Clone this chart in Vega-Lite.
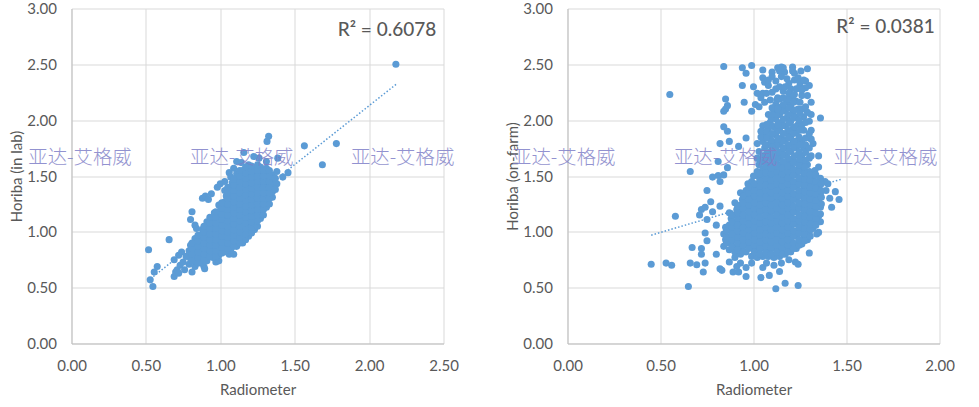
{"$schema":"https://vega.github.io/schema/vega-lite/v6.json","padding":{"left":9.5,"top":1.5,"right":0,"bottom":0},"background":"white","bounds":"flush","spacing":124,
"config":{"view":{"stroke":null},"axis":{"grid":true,"gridColor":"#d9d9d9","gridWidth":1,"domainColor":"#bfbfbf","ticks":false,"labelFont":"Lato","labelFontSize":15,"labelColor":"#595959","titleFont":"Lato","titleFontSize":15,"titleColor":"#595959","titleFontWeight":"normal","labelPadding":15,"labelFlush":false,"labelOverlap":false,"format":".2f"}},
"datasets":{
"lab":[{"x":2.18,"y":2.5},{"x":1.78,"y":1.79},{"x":1.686,"y":1.6},{"x":1.565,"y":1.77},{"x":1.325,"y":1.855},{"x":1.314,"y":1.81},{"x":1.158,"y":1.71},{"x":1.225,"y":1.675},{"x":1.386,"y":1.66},{"x":1.31,"y":1.63},{"x":1.455,"y":1.53},{"x":1.42,"y":1.49},{"x":0.518,"y":0.84},{"x":0.656,"y":0.93},{"x":0.576,"y":0.69},{"x":0.556,"y":0.64},{"x":0.529,"y":0.57},{"x":0.547,"y":0.51},{"x":0.69,"y":0.6},{"x":0.7,"y":0.64},{"x":0.69,"y":0.75},{"x":0.72,"y":0.79},{"x":0.71,"y":0.66},{"x":0.74,"y":0.82},{"x":0.81,"y":0.64},{"x":0.89,"y":0.69},{"x":0.895,"y":0.67},{"x":0.97,"y":0.73},{"x":0.99,"y":0.74},{"x":1.06,"y":0.8},{"x":1.09,"y":0.8},{"x":0.81,"y":1.18},{"x":0.8,"y":1.11},{"x":0.83,"y":1.06},{"x":0.84,"y":1.03},{"x":0.88,"y":1.3},{"x":0.9,"y":1.32},{"x":0.92,"y":1.29},{"x":0.94,"y":1.34},{"x":0.98,"y":1.4},{"x":1.0,"y":1.43},{"x":1.03,"y":1.45},{"x":1.06,"y":1.53},{"x":1.09,"y":1.57},{"x":1.11,"y":1.63},{"x":1.14,"y":1.62},{"x":1.26,"y":1.66},
{"x":0.72,"y":0.63},{"x":0.73,"y":0.7},{"x":0.76,"y":0.66},{"x":0.75,"y":0.73},{"x":0.77,"y":0.78},{"x":0.79,"y":0.71},{"x":0.8,"y":0.76},{"x":0.79,"y":0.83},{"x":0.8,"y":0.88},{"x":0.83,"y":0.69},{"x":0.83,"y":0.74},{"x":0.84,"y":0.79},{"x":0.83,"y":0.84},{"x":0.84,"y":0.89},{"x":0.83,"y":0.94},{"x":0.87,"y":0.72},{"x":0.87,"y":0.77},{"x":0.88,"y":0.82},{"x":0.87,"y":0.87},{"x":0.88,"y":0.92},{"x":0.87,"y":0.97},{"x":0.88,"y":1.02},{"x":0.91,"y":0.74},{"x":0.91,"y":0.79},{"x":0.92,"y":0.84},{"x":0.91,"y":0.89},{"x":0.92,"y":0.94},{"x":0.91,"y":0.99},{"x":0.92,"y":1.04},{"x":0.91,"y":1.09},{"x":0.95,"y":0.77},{"x":0.95,"y":0.82},{"x":0.96,"y":0.87},{"x":0.95,"y":0.92},{"x":0.96,"y":0.97},{"x":0.95,"y":1.02},{"x":0.96,"y":1.07},{"x":0.95,"y":1.12},{"x":0.96,"y":1.17},{"x":0.99,"y":0.79},{"x":0.99,"y":0.84},{"x":1.0,"y":0.89},{"x":0.99,"y":0.94},{"x":1.0,"y":0.99},{"x":0.99,"y":1.04},{"x":1.0,"y":1.09},{"x":0.99,"y":1.14},{"x":1.0,"y":1.19},{"x":0.99,"y":1.24},{"x":1.03,"y":0.82},{"x":1.03,"y":0.87},{"x":1.04,"y":0.92},{"x":1.03,"y":0.97},{"x":1.04,"y":1.02},{"x":1.03,"y":1.07},{"x":1.04,"y":1.12},{"x":1.03,"y":1.17},{"x":1.04,"y":1.22},{"x":1.03,"y":1.27},{"x":1.04,"y":1.32},{"x":1.03,"y":1.37},{"x":1.07,"y":0.84},{"x":1.07,"y":0.89},{"x":1.08,"y":0.94},{"x":1.07,"y":0.99},{"x":1.08,"y":1.04},{"x":1.07,"y":1.09},{"x":1.08,"y":1.14},{"x":1.07,"y":1.19},{"x":1.08,"y":1.24},{"x":1.07,"y":1.29},{"x":1.08,"y":1.34},{"x":1.07,"y":1.39},{"x":1.08,"y":1.44},{"x":1.07,"y":1.49},{"x":1.11,"y":0.87},{"x":1.11,"y":0.92},{"x":1.12,"y":0.97},{"x":1.11,"y":1.02},{"x":1.12,"y":1.07},{"x":1.11,"y":1.12},{"x":1.12,"y":1.17},{"x":1.11,"y":1.22},{"x":1.12,"y":1.27},{"x":1.11,"y":1.32},{"x":1.12,"y":1.37},{"x":1.11,"y":1.42},{"x":1.12,"y":1.47},{"x":1.11,"y":1.52},{"x":1.15,"y":0.9},{"x":1.15,"y":0.95},{"x":1.16,"y":1.0},{"x":1.15,"y":1.05},{"x":1.16,"y":1.1},{"x":1.15,"y":1.15},{"x":1.16,"y":1.2},{"x":1.15,"y":1.25},{"x":1.16,"y":1.3},{"x":1.15,"y":1.35},{"x":1.16,"y":1.4},{"x":1.15,"y":1.45},{"x":1.16,"y":1.5},{"x":1.15,"y":1.55},{"x":1.19,"y":0.96},{"x":1.19,"y":1.01},{"x":1.2,"y":1.06},{"x":1.19,"y":1.11},{"x":1.2,"y":1.16},{"x":1.19,"y":1.21},{"x":1.2,"y":1.26},{"x":1.19,"y":1.31},{"x":1.2,"y":1.36},{"x":1.19,"y":1.41},{"x":1.2,"y":1.46},{"x":1.19,"y":1.51},{"x":1.2,"y":1.56},{"x":1.19,"y":1.6},{"x":1.23,"y":1.02},{"x":1.23,"y":1.07},{"x":1.24,"y":1.12},{"x":1.23,"y":1.17},{"x":1.24,"y":1.22},{"x":1.23,"y":1.27},{"x":1.24,"y":1.32},{"x":1.23,"y":1.37},{"x":1.24,"y":1.42},{"x":1.23,"y":1.47},{"x":1.24,"y":1.52},{"x":1.23,"y":1.57},{"x":1.27,"y":1.12},{"x":1.27,"y":1.17},{"x":1.28,"y":1.22},{"x":1.27,"y":1.27},{"x":1.28,"y":1.32},{"x":1.27,"y":1.37},{"x":1.28,"y":1.42},{"x":1.27,"y":1.47},{"x":1.28,"y":1.52},{"x":1.27,"y":1.58},{"x":1.31,"y":1.22},{"x":1.31,"y":1.27},{"x":1.32,"y":1.32},{"x":1.31,"y":1.37},{"x":1.32,"y":1.42},{"x":1.31,"y":1.47},{"x":1.32,"y":1.52},{"x":1.31,"y":1.57},{"x":1.35,"y":1.31},{"x":1.35,"y":1.36},{"x":1.35,"y":1.41},{"x":1.36,"y":1.46},{"x":1.35,"y":1.51},{"x":1.38,"y":1.43},{"x":1.38,"y":1.54},
{"x":0.81,"y":0.74},{"x":0.81,"y":0.8},{"x":0.81,"y":0.85},{"x":0.81,"y":0.9},{"x":0.85,"y":0.72},{"x":0.85,"y":0.77},{"x":0.85,"y":0.82},{"x":0.85,"y":0.87},{"x":0.85,"y":0.92},{"x":0.85,"y":0.97},{"x":0.89,"y":0.75},{"x":0.89,"y":0.8},{"x":0.89,"y":0.85},{"x":0.89,"y":0.9},{"x":0.89,"y":0.95},{"x":0.89,"y":1.0},{"x":0.89,"y":1.05},{"x":0.93,"y":0.78},{"x":0.93,"y":0.83},{"x":0.93,"y":0.88},{"x":0.93,"y":0.93},{"x":0.93,"y":0.98},{"x":0.93,"y":1.03},{"x":0.93,"y":1.08},{"x":0.93,"y":1.13},{"x":0.97,"y":0.78},{"x":0.97,"y":0.83},{"x":0.97,"y":0.88},{"x":0.97,"y":0.93},{"x":0.97,"y":0.98},{"x":0.97,"y":1.03},{"x":0.97,"y":1.08},{"x":0.97,"y":1.13},{"x":0.97,"y":1.18},{"x":1.01,"y":0.81},{"x":1.01,"y":0.86},{"x":1.01,"y":0.91},{"x":1.01,"y":0.96},{"x":1.01,"y":1.01},{"x":1.01,"y":1.06},{"x":1.01,"y":1.11},{"x":1.01,"y":1.16},{"x":1.01,"y":1.21},{"x":1.01,"y":1.26},{"x":1.05,"y":0.85},{"x":1.05,"y":0.9},{"x":1.05,"y":0.95},{"x":1.05,"y":1.0},{"x":1.05,"y":1.05},{"x":1.05,"y":1.1},{"x":1.05,"y":1.15},{"x":1.05,"y":1.2},{"x":1.05,"y":1.25},{"x":1.05,"y":1.3},{"x":1.05,"y":1.35},{"x":1.05,"y":1.4},{"x":1.09,"y":0.87},{"x":1.09,"y":0.92},{"x":1.09,"y":0.97},{"x":1.09,"y":1.02},{"x":1.09,"y":1.07},{"x":1.09,"y":1.12},{"x":1.09,"y":1.17},{"x":1.09,"y":1.22},{"x":1.09,"y":1.27},{"x":1.09,"y":1.32},{"x":1.09,"y":1.37},{"x":1.09,"y":1.42},{"x":1.09,"y":1.47},{"x":1.13,"y":0.9},{"x":1.13,"y":0.95},{"x":1.13,"y":1.0},{"x":1.13,"y":1.05},{"x":1.13,"y":1.1},{"x":1.13,"y":1.15},{"x":1.13,"y":1.2},{"x":1.13,"y":1.25},{"x":1.13,"y":1.3},{"x":1.13,"y":1.35},{"x":1.13,"y":1.4},{"x":1.13,"y":1.45},{"x":1.13,"y":1.5},{"x":1.13,"y":1.55},{"x":1.17,"y":0.93},{"x":1.17,"y":0.98},{"x":1.17,"y":1.03},{"x":1.17,"y":1.08},{"x":1.17,"y":1.13},{"x":1.17,"y":1.18},{"x":1.17,"y":1.23},{"x":1.17,"y":1.28},{"x":1.17,"y":1.33},{"x":1.17,"y":1.38},{"x":1.17,"y":1.43},{"x":1.17,"y":1.48},{"x":1.17,"y":1.53},{"x":1.17,"y":1.58},{"x":1.21,"y":0.99},{"x":1.21,"y":1.04},{"x":1.21,"y":1.09},{"x":1.21,"y":1.14},{"x":1.21,"y":1.19},{"x":1.21,"y":1.24},{"x":1.21,"y":1.29},{"x":1.21,"y":1.34},{"x":1.21,"y":1.39},{"x":1.21,"y":1.44},{"x":1.21,"y":1.49},{"x":1.21,"y":1.54},{"x":1.21,"y":1.59},{"x":1.25,"y":1.05},{"x":1.25,"y":1.1},{"x":1.25,"y":1.15},{"x":1.25,"y":1.2},{"x":1.25,"y":1.25},{"x":1.25,"y":1.3},{"x":1.25,"y":1.35},{"x":1.25,"y":1.4},{"x":1.25,"y":1.45},{"x":1.25,"y":1.5},{"x":1.25,"y":1.55},{"x":1.25,"y":1.6},{"x":1.29,"y":1.15},{"x":1.29,"y":1.2},{"x":1.29,"y":1.25},{"x":1.29,"y":1.3},{"x":1.29,"y":1.35},{"x":1.29,"y":1.4},{"x":1.29,"y":1.45},{"x":1.29,"y":1.5},{"x":1.29,"y":1.55},{"x":1.33,"y":1.25},{"x":1.33,"y":1.3},{"x":1.33,"y":1.35},{"x":1.33,"y":1.4},{"x":1.33,"y":1.45},{"x":1.33,"y":1.5},{"x":1.33,"y":1.55},{"x":1.37,"y":1.38},{"x":1.37,"y":1.48}],
"farm":[{"x":0.84,"y":2.48},{"x":0.94,"y":2.47},{"x":0.99,"y":2.49},{"x":0.96,"y":2.42},{"x":1.05,"y":2.45},{"x":1.1,"y":2.43},{"x":1.1,"y":2.39},{"x":1.05,"y":2.38},{"x":1.15,"y":2.475},{"x":1.167,"y":2.43},{"x":1.15,"y":2.39},{"x":1.21,"y":2.475},{"x":1.21,"y":2.44},{"x":1.255,"y":2.44},{"x":1.29,"y":2.46},{"x":0.94,"y":2.31},{"x":1.0,"y":2.3},{"x":0.55,"y":2.23},{"x":0.85,"y":2.19},{"x":0.86,"y":2.13},{"x":0.85,"y":2.1},{"x":0.84,"y":2.08},{"x":0.95,"y":2.16},{"x":0.99,"y":2.08},{"x":1.01,"y":2.14},{"x":1.03,"y":2.12},{"x":1.36,"y":2.02},{"x":0.84,"y":1.94},{"x":0.86,"y":1.9},{"x":0.96,"y":1.84},{"x":0.87,"y":1.81},{"x":0.82,"y":1.79},{"x":0.92,"y":1.765},{"x":0.81,"y":1.63},{"x":0.86,"y":1.575},{"x":0.66,"y":1.54},{"x":0.84,"y":1.51},{"x":0.81,"y":1.505},{"x":0.78,"y":1.49},{"x":0.82,"y":1.45},{"x":0.75,"y":1.37},{"x":0.77,"y":1.27},{"x":0.74,"y":1.22},{"x":0.72,"y":1.2},{"x":0.71,"y":1.15},{"x":0.58,"y":1.14},{"x":0.75,"y":1.11},{"x":0.78,"y":1.18},{"x":0.82,"y":1.23},{"x":0.8,"y":1.06},{"x":0.74,"y":0.99},{"x":0.75,"y":0.92},{"x":0.67,"y":0.86},{"x":0.72,"y":0.85},{"x":0.8,"y":0.8},{"x":0.72,"y":0.8},{"x":0.66,"y":0.72},{"x":0.695,"y":0.705},{"x":0.74,"y":0.72},{"x":0.73,"y":0.64},{"x":0.45,"y":0.71},{"x":0.53,"y":0.72},{"x":0.56,"y":0.7},{"x":0.65,"y":0.51},{"x":0.82,"y":0.67},{"x":0.83,"y":0.655},{"x":0.89,"y":0.64},{"x":0.92,"y":0.64},{"x":0.96,"y":0.6},{"x":1.04,"y":0.59},{"x":1.085,"y":0.61},{"x":1.12,"y":0.49},{"x":1.17,"y":0.54},{"x":1.24,"y":0.52},{"x":1.3,"y":0.81},{"x":1.14,"y":0.645},{"x":1.05,"y":0.68},{"x":1.225,"y":0.73},{"x":1.24,"y":0.71},{"x":1.46,"y":1.29},{"x":1.44,"y":1.36},{"x":1.42,"y":1.22},{"x":1.41,"y":1.3},{"x":1.4,"y":1.43},{"x":1.385,"y":1.45},{"x":1.39,"y":1.37},{"x":1.36,"y":1.48},{"x":1.35,"y":1.58},{"x":1.35,"y":1.68},{"x":1.31,"y":1.68},{"x":1.32,"y":1.79},{"x":1.31,"y":1.83},{"x":1.31,"y":1.91},{"x":1.27,"y":1.91},{"x":1.3,"y":1.99},{"x":1.31,"y":2.05},{"x":1.29,"y":2.07},{"x":1.31,"y":2.16},{"x":1.29,"y":2.22},{"x":1.26,"y":2.22},{"x":1.3,"y":2.31},{"x":1.28,"y":2.35},{"x":1.28,"y":2.29},{"x":1.36,"y":1.09},{"x":1.35,"y":0.995},{"x":1.34,"y":0.98},{"x":1.36,"y":1.16},{"x":1.06,"y":2.34},{"x":1.08,"y":2.31},{"x":1.12,"y":2.28},{"x":1.05,"y":2.24},{"x":1.16,"y":2.26},{"x":1.19,"y":2.33},{"x":1.22,"y":2.36},{"x":1.24,"y":2.38},{"x":1.2,"y":2.28},{"x":0.9,"y":0.77},{"x":0.87,"y":0.73},{"x":0.93,"y":0.72},{"x":0.96,"y":0.68},{"x":0.99,"y":0.72},{"x":1.07,"y":0.72},{"x":1.11,"y":0.7},{"x":1.15,"y":0.72},{"x":1.19,"y":0.75},{"x":0.91,"y":0.69},
{"x":0.84,"y":0.87},{"x":0.85,"y":0.93},{"x":0.84,"y":0.98},{"x":0.85,"y":1.04},{"x":0.87,"y":0.84},{"x":0.88,"y":0.9},{"x":0.87,"y":0.95},{"x":0.88,"y":1.01},{"x":0.87,"y":1.06},{"x":0.88,"y":1.12},{"x":0.87,"y":1.17},{"x":0.9,"y":0.82},{"x":0.91,"y":0.87},{"x":0.9,"y":0.93},{"x":0.91,"y":0.98},{"x":0.9,"y":1.04},{"x":0.91,"y":1.09},{"x":0.9,"y":1.15},{"x":0.91,"y":1.2},{"x":0.9,"y":1.26},{"x":0.93,"y":0.8},{"x":0.94,"y":0.85},{"x":0.93,"y":0.91},{"x":0.94,"y":0.96},{"x":0.93,"y":1.02},{"x":0.94,"y":1.07},{"x":0.93,"y":1.13},{"x":0.94,"y":1.18},{"x":0.93,"y":1.24},{"x":0.94,"y":1.29},{"x":0.93,"y":1.35},{"x":0.96,"y":0.82},{"x":0.97,"y":0.88},{"x":0.96,"y":0.93},{"x":0.97,"y":0.99},{"x":0.96,"y":1.04},{"x":0.97,"y":1.1},{"x":0.96,"y":1.15},{"x":0.97,"y":1.21},{"x":0.96,"y":1.26},{"x":0.97,"y":1.32},{"x":0.96,"y":1.37},{"x":0.97,"y":1.43},{"x":0.99,"y":0.78},{"x":1.0,"y":0.85},{"x":0.99,"y":0.9},{"x":1.0,"y":0.96},{"x":0.99,"y":1.01},{"x":1.0,"y":1.07},{"x":0.99,"y":1.12},{"x":1.0,"y":1.18},{"x":0.99,"y":1.23},{"x":1.0,"y":1.29},{"x":0.99,"y":1.34},{"x":1.0,"y":1.4},{"x":0.99,"y":1.45},{"x":1.0,"y":1.5},{"x":1.02,"y":0.77},{"x":1.03,"y":0.83},{"x":1.02,"y":0.88},{"x":1.03,"y":0.94},{"x":1.02,"y":0.99},{"x":1.03,"y":1.05},{"x":1.02,"y":1.1},{"x":1.03,"y":1.16},{"x":1.02,"y":1.21},{"x":1.03,"y":1.27},{"x":1.02,"y":1.32},{"x":1.03,"y":1.38},{"x":1.02,"y":1.43},{"x":1.03,"y":1.49},{"x":1.02,"y":1.54},{"x":1.03,"y":1.6},{"x":1.02,"y":1.66},{"x":1.03,"y":1.72},{"x":1.02,"y":1.79},{"x":1.05,"y":0.78},{"x":1.06,"y":0.85},{"x":1.05,"y":0.9},{"x":1.06,"y":0.96},{"x":1.05,"y":1.01},{"x":1.06,"y":1.07},{"x":1.05,"y":1.12},{"x":1.06,"y":1.18},{"x":1.05,"y":1.23},{"x":1.06,"y":1.29},{"x":1.05,"y":1.34},{"x":1.06,"y":1.4},{"x":1.05,"y":1.45},{"x":1.06,"y":1.51},{"x":1.05,"y":1.56},{"x":1.06,"y":1.62},{"x":1.05,"y":1.68},{"x":1.06,"y":1.75},{"x":1.05,"y":1.81},{"x":1.06,"y":1.88},{"x":1.05,"y":1.95},{"x":1.08,"y":0.78},{"x":1.09,"y":0.83},{"x":1.08,"y":0.89},{"x":1.09,"y":0.94},{"x":1.08,"y":1.0},{"x":1.09,"y":1.05},{"x":1.08,"y":1.11},{"x":1.09,"y":1.16},{"x":1.08,"y":1.22},{"x":1.09,"y":1.27},{"x":1.08,"y":1.33},{"x":1.09,"y":1.38},{"x":1.08,"y":1.44},{"x":1.09,"y":1.49},{"x":1.08,"y":1.55},{"x":1.09,"y":1.6},{"x":1.08,"y":1.66},{"x":1.09,"y":1.72},{"x":1.08,"y":1.78},{"x":1.09,"y":1.85},{"x":1.08,"y":1.92},{"x":1.09,"y":1.98},{"x":1.08,"y":2.05},{"x":1.11,"y":0.77},{"x":1.12,"y":0.85},{"x":1.11,"y":0.9},{"x":1.12,"y":0.96},{"x":1.11,"y":1.01},{"x":1.12,"y":1.07},{"x":1.11,"y":1.12},{"x":1.12,"y":1.18},{"x":1.11,"y":1.23},{"x":1.12,"y":1.29},{"x":1.11,"y":1.34},{"x":1.12,"y":1.4},{"x":1.11,"y":1.45},{"x":1.12,"y":1.51},{"x":1.11,"y":1.56},{"x":1.12,"y":1.62},{"x":1.11,"y":1.68},{"x":1.12,"y":1.74},{"x":1.11,"y":1.8},{"x":1.12,"y":1.87},{"x":1.11,"y":1.94},{"x":1.12,"y":2.01},{"x":1.11,"y":2.08},{"x":1.12,"y":2.14},{"x":1.14,"y":0.78},{"x":1.15,"y":0.83},{"x":1.14,"y":0.89},{"x":1.15,"y":0.94},{"x":1.14,"y":1.0},{"x":1.15,"y":1.05},{"x":1.14,"y":1.11},{"x":1.15,"y":1.16},{"x":1.14,"y":1.22},{"x":1.15,"y":1.27},{"x":1.14,"y":1.33},{"x":1.15,"y":1.38},{"x":1.14,"y":1.44},{"x":1.15,"y":1.49},{"x":1.14,"y":1.55},{"x":1.15,"y":1.6},{"x":1.14,"y":1.66},{"x":1.15,"y":1.72},{"x":1.14,"y":1.79},{"x":1.15,"y":1.84},{"x":1.14,"y":1.91},{"x":1.15,"y":1.98},{"x":1.14,"y":2.05},{"x":1.15,"y":2.12},{"x":1.14,"y":2.19},{"x":1.17,"y":0.8},{"x":1.18,"y":0.85},{"x":1.17,"y":0.91},{"x":1.18,"y":0.96},{"x":1.17,"y":1.02},{"x":1.18,"y":1.07},{"x":1.17,"y":1.13},{"x":1.18,"y":1.18},{"x":1.17,"y":1.24},{"x":1.18,"y":1.29},{"x":1.17,"y":1.35},{"x":1.18,"y":1.4},{"x":1.17,"y":1.46},{"x":1.18,"y":1.51},{"x":1.17,"y":1.57},{"x":1.18,"y":1.62},{"x":1.17,"y":1.69},{"x":1.18,"y":1.75},{"x":1.17,"y":1.82},{"x":1.18,"y":1.88},{"x":1.17,"y":1.95},{"x":1.18,"y":2.02},{"x":1.17,"y":2.09},{"x":1.18,"y":2.16},{"x":1.2,"y":0.82},{"x":1.21,"y":0.87},{"x":1.2,"y":0.93},{"x":1.21,"y":0.98},{"x":1.2,"y":1.04},{"x":1.21,"y":1.09},{"x":1.2,"y":1.15},{"x":1.21,"y":1.2},{"x":1.2,"y":1.26},{"x":1.21,"y":1.31},{"x":1.2,"y":1.37},{"x":1.21,"y":1.42},{"x":1.2,"y":1.48},{"x":1.21,"y":1.53},{"x":1.2,"y":1.59},{"x":1.21,"y":1.65},{"x":1.2,"y":1.72},{"x":1.21,"y":1.79},{"x":1.2,"y":1.85},{"x":1.21,"y":1.92},{"x":1.2,"y":1.99},{"x":1.21,"y":2.06},{"x":1.2,"y":2.13},{"x":1.21,"y":2.2},{"x":1.23,"y":0.85},{"x":1.24,"y":0.9},{"x":1.23,"y":0.96},{"x":1.24,"y":1.01},{"x":1.23,"y":1.07},{"x":1.24,"y":1.12},{"x":1.23,"y":1.18},{"x":1.24,"y":1.23},{"x":1.23,"y":1.29},{"x":1.24,"y":1.34},{"x":1.23,"y":1.4},{"x":1.24,"y":1.45},{"x":1.23,"y":1.51},{"x":1.24,"y":1.56},{"x":1.23,"y":1.62},{"x":1.24,"y":1.69},{"x":1.23,"y":1.76},{"x":1.24,"y":1.82},{"x":1.23,"y":1.89},{"x":1.24,"y":1.96},{"x":1.23,"y":2.03},{"x":1.24,"y":2.1},{"x":1.23,"y":2.17},{"x":1.26,"y":0.89},{"x":1.27,"y":0.95},{"x":1.26,"y":1.0},{"x":1.27,"y":1.06},{"x":1.26,"y":1.11},{"x":1.27,"y":1.17},{"x":1.26,"y":1.22},{"x":1.27,"y":1.28},{"x":1.26,"y":1.33},{"x":1.27,"y":1.39},{"x":1.26,"y":1.44},{"x":1.27,"y":1.5},{"x":1.26,"y":1.56},{"x":1.27,"y":1.62},{"x":1.26,"y":1.68},{"x":1.27,"y":1.75},{"x":1.26,"y":1.82},{"x":1.26,"y":1.96},{"x":1.27,"y":2.03},{"x":1.26,"y":2.1},{"x":1.29,"y":0.93},{"x":1.3,"y":0.99},{"x":1.29,"y":1.04},{"x":1.3,"y":1.1},{"x":1.29,"y":1.15},{"x":1.3,"y":1.21},{"x":1.29,"y":1.26},{"x":1.3,"y":1.32},{"x":1.29,"y":1.37},{"x":1.3,"y":1.43},{"x":1.29,"y":1.48},{"x":1.3,"y":1.54},{"x":1.29,"y":1.6},{"x":1.28,"y":1.78},{"x":1.32,"y":1.03},{"x":1.33,"y":1.09},{"x":1.32,"y":1.14},{"x":1.33,"y":1.2},{"x":1.32,"y":1.25},{"x":1.33,"y":1.31},{"x":1.32,"y":1.36},{"x":1.33,"y":1.42},{"x":1.32,"y":1.48},{"x":1.33,"y":1.55},{"x":1.35,"y":1.14},{"x":1.36,"y":1.22},{"x":1.35,"y":1.28},{"x":1.36,"y":1.34},{"x":1.35,"y":1.4},
{"x":0.855,"y":0.9},{"x":0.855,"y":0.96},{"x":0.855,"y":1.01},{"x":0.885,"y":0.87},{"x":0.885,"y":0.93},{"x":0.885,"y":0.98},{"x":0.885,"y":1.04},{"x":0.885,"y":1.09},{"x":0.885,"y":1.15},{"x":0.915,"y":0.84},{"x":0.915,"y":0.9},{"x":0.915,"y":0.95},{"x":0.915,"y":1.01},{"x":0.915,"y":1.06},{"x":0.915,"y":1.12},{"x":0.915,"y":1.17},{"x":0.915,"y":1.23},{"x":0.945,"y":0.82},{"x":0.945,"y":0.88},{"x":0.945,"y":0.93},{"x":0.945,"y":0.99},{"x":0.945,"y":1.04},{"x":0.945,"y":1.1},{"x":0.945,"y":1.15},{"x":0.945,"y":1.21},{"x":0.945,"y":1.26},{"x":0.945,"y":1.32},{"x":0.975,"y":0.85},{"x":0.975,"y":0.91},{"x":0.975,"y":0.96},{"x":0.975,"y":1.02},{"x":0.975,"y":1.07},{"x":0.975,"y":1.13},{"x":0.975,"y":1.18},{"x":0.975,"y":1.24},{"x":0.975,"y":1.29},{"x":0.975,"y":1.35},{"x":0.975,"y":1.4},{"x":1.005,"y":0.82},{"x":1.005,"y":0.88},{"x":1.005,"y":0.93},{"x":1.005,"y":0.99},{"x":1.005,"y":1.04},{"x":1.005,"y":1.1},{"x":1.005,"y":1.15},{"x":1.005,"y":1.21},{"x":1.005,"y":1.26},{"x":1.005,"y":1.32},{"x":1.005,"y":1.37},{"x":1.005,"y":1.43},{"x":1.035,"y":0.8},{"x":1.035,"y":0.86},{"x":1.035,"y":0.91},{"x":1.035,"y":0.97},{"x":1.035,"y":1.02},{"x":1.035,"y":1.08},{"x":1.035,"y":1.13},{"x":1.035,"y":1.19},{"x":1.035,"y":1.24},{"x":1.035,"y":1.3},{"x":1.035,"y":1.35},{"x":1.035,"y":1.41},{"x":1.035,"y":1.46},{"x":1.035,"y":1.52},{"x":1.035,"y":1.63},{"x":1.065,"y":0.82},{"x":1.065,"y":0.87},{"x":1.065,"y":0.93},{"x":1.065,"y":0.98},{"x":1.065,"y":1.04},{"x":1.065,"y":1.09},{"x":1.065,"y":1.15},{"x":1.065,"y":1.2},{"x":1.065,"y":1.26},{"x":1.065,"y":1.31},{"x":1.065,"y":1.37},{"x":1.065,"y":1.42},{"x":1.065,"y":1.48},{"x":1.065,"y":1.53},{"x":1.065,"y":1.59},{"x":1.065,"y":1.65},{"x":1.065,"y":1.78},{"x":1.095,"y":0.8},{"x":1.095,"y":0.86},{"x":1.095,"y":0.91},{"x":1.095,"y":0.97},{"x":1.095,"y":1.02},{"x":1.095,"y":1.08},{"x":1.095,"y":1.13},{"x":1.095,"y":1.19},{"x":1.095,"y":1.24},{"x":1.095,"y":1.3},{"x":1.095,"y":1.35},{"x":1.095,"y":1.41},{"x":1.095,"y":1.46},{"x":1.095,"y":1.52},{"x":1.095,"y":1.57},{"x":1.095,"y":1.69},{"x":1.095,"y":1.82},{"x":1.095,"y":1.95},{"x":1.095,"y":2.02},{"x":1.125,"y":0.82},{"x":1.125,"y":0.88},{"x":1.125,"y":0.93},{"x":1.125,"y":0.99},{"x":1.125,"y":1.04},{"x":1.125,"y":1.1},{"x":1.125,"y":1.15},{"x":1.125,"y":1.21},{"x":1.125,"y":1.26},{"x":1.125,"y":1.32},{"x":1.125,"y":1.37},{"x":1.125,"y":1.43},{"x":1.125,"y":1.48},{"x":1.125,"y":1.54},{"x":1.125,"y":1.59},{"x":1.125,"y":1.65},{"x":1.125,"y":1.77},{"x":1.125,"y":1.9},{"x":1.125,"y":2.05},{"x":1.125,"y":2.18},{"x":1.155,"y":0.8},{"x":1.155,"y":0.86},{"x":1.155,"y":0.91},{"x":1.155,"y":0.97},{"x":1.155,"y":1.02},{"x":1.155,"y":1.08},{"x":1.155,"y":1.13},{"x":1.155,"y":1.19},{"x":1.155,"y":1.24},{"x":1.155,"y":1.3},{"x":1.155,"y":1.35},{"x":1.155,"y":1.41},{"x":1.155,"y":1.46},{"x":1.155,"y":1.52},{"x":1.155,"y":1.57},{"x":1.155,"y":1.69},{"x":1.155,"y":1.81},{"x":1.155,"y":1.95},{"x":1.155,"y":2.08},{"x":1.185,"y":0.82},{"x":1.185,"y":0.88},{"x":1.185,"y":0.93},{"x":1.185,"y":0.99},{"x":1.185,"y":1.04},{"x":1.185,"y":1.1},{"x":1.185,"y":1.15},{"x":1.185,"y":1.21},{"x":1.185,"y":1.26},{"x":1.185,"y":1.32},{"x":1.185,"y":1.37},{"x":1.185,"y":1.43},{"x":1.185,"y":1.48},{"x":1.185,"y":1.54},{"x":1.185,"y":1.59},{"x":1.185,"y":1.66},{"x":1.185,"y":1.78},{"x":1.185,"y":1.91},{"x":1.185,"y":2.05},{"x":1.185,"y":2.19},{"x":1.215,"y":0.85},{"x":1.215,"y":0.9},{"x":1.215,"y":0.96},{"x":1.215,"y":1.01},{"x":1.215,"y":1.07},{"x":1.215,"y":1.12},{"x":1.215,"y":1.18},{"x":1.215,"y":1.23},{"x":1.215,"y":1.29},{"x":1.215,"y":1.34},{"x":1.215,"y":1.4},{"x":1.215,"y":1.45},{"x":1.215,"y":1.51},{"x":1.215,"y":1.56},{"x":1.215,"y":1.62},{"x":1.215,"y":1.75},{"x":1.215,"y":1.88},{"x":1.215,"y":2.02},{"x":1.215,"y":2.16},{"x":1.245,"y":0.88},{"x":1.245,"y":0.93},{"x":1.245,"y":0.99},{"x":1.245,"y":1.04},{"x":1.245,"y":1.1},{"x":1.245,"y":1.15},{"x":1.245,"y":1.21},{"x":1.245,"y":1.26},{"x":1.245,"y":1.32},{"x":1.245,"y":1.37},{"x":1.245,"y":1.43},{"x":1.245,"y":1.48},{"x":1.245,"y":1.54},{"x":1.245,"y":1.6},{"x":1.245,"y":1.72},{"x":1.245,"y":1.85},{"x":1.245,"y":2.0},{"x":1.275,"y":0.92},{"x":1.275,"y":0.98},{"x":1.275,"y":1.03},{"x":1.275,"y":1.09},{"x":1.275,"y":1.14},{"x":1.275,"y":1.2},{"x":1.275,"y":1.25},{"x":1.275,"y":1.31},{"x":1.275,"y":1.36},{"x":1.275,"y":1.42},{"x":1.275,"y":1.47},{"x":1.275,"y":1.53},{"x":1.275,"y":1.58},{"x":1.305,"y":0.96},{"x":1.305,"y":1.02},{"x":1.305,"y":1.07},{"x":1.305,"y":1.13},{"x":1.305,"y":1.18},{"x":1.305,"y":1.24},{"x":1.305,"y":1.29},{"x":1.305,"y":1.35},{"x":1.305,"y":1.4},{"x":1.305,"y":1.46},{"x":1.305,"y":1.51},{"x":1.335,"y":1.06},{"x":1.335,"y":1.12},{"x":1.335,"y":1.17},{"x":1.335,"y":1.23},{"x":1.335,"y":1.28},{"x":1.335,"y":1.34},{"x":1.335,"y":1.39},{"x":1.335,"y":1.45},{"x":1.335,"y":1.51},{"x":1.365,"y":1.25},{"x":1.365,"y":1.31},{"x":1.365,"y":1.37},{"x":1.365,"y":1.43},
{"x":1.04,"y":1.85},{"x":1.04,"y":1.9},{"x":1.07,"y":1.7},{"x":1.07,"y":1.84},{"x":1.07,"y":1.9},{"x":1.07,"y":1.96},{"x":1.1,"y":1.64},{"x":1.1,"y":1.76},{"x":1.1,"y":1.88},{"x":1.1,"y":2.05},{"x":1.1,"y":2.11},{"x":1.13,"y":1.71},{"x":1.13,"y":1.83},{"x":1.13,"y":1.96},{"x":1.13,"y":2.1},{"x":1.13,"y":2.2},{"x":1.16,"y":1.63},{"x":1.16,"y":1.75},{"x":1.16,"y":1.88},{"x":1.16,"y":2.01},{"x":1.16,"y":2.14},{"x":1.16,"y":2.2},{"x":1.19,"y":1.72},{"x":1.19,"y":1.84},{"x":1.19,"y":1.97},{"x":1.19,"y":2.11},{"x":1.19,"y":2.24},{"x":1.22,"y":1.68},{"x":1.22,"y":1.81},{"x":1.22,"y":1.94},{"x":1.22,"y":2.09},{"x":1.22,"y":2.23},{"x":1.25,"y":1.65},{"x":1.25,"y":1.78},{"x":1.25,"y":1.91},{"x":1.25,"y":2.06},{"x":1.25,"y":2.16},{"x":1.28,"y":1.64},{"x":1.28,"y":1.71},{"x":1.28,"y":1.84},{"x":1.28,"y":1.98},{"x":1.28,"y":2.12},{"x":1.3,"y":1.66},{"x":1.3,"y":1.75},{"x":1.3,"y":1.88},{"x":1.07,"y":2.24},{"x":1.1,"y":2.25},{"x":1.14,"y":2.3},{"x":1.17,"y":2.3},{"x":1.23,"y":2.28},{"x":1.25,"y":2.31},{"x":1.26,"y":2.27},{"x":1.08,"y":2.36},{"x":1.12,"y":2.35},{"x":1.18,"y":2.37},{"x":1.22,"y":2.42},{"x":1.25,"y":2.34},{"x":1.02,"y":2.24},{"x":1.04,"y":2.2},{"x":1.06,"y":2.16},{"x":1.09,"y":2.18},{"x":1.27,"y":2.36},{"x":1.14,"y":2.44},{"x":1.16,"y":2.47},{"x":1.13,"y":2.47}],
"labTrend":[{"x":0.55,"y":0.6},{"x":2.19,"y":2.33}],
"farmTrend":[{"x":0.45,"y":0.97},{"x":1.47,"y":1.47}],
"labNote":[{"x":2.12,"y":2.81,"t":"R² = 0.6078"}],
"farmNote":[{"x":1.71,"y":2.83,"t":"R² = 0.0381"}],
"labMark":[{"x":0.057,"y":1.66,"t":"亚达-艾格威"},{"x":1.144,"y":1.66,"t":"亚达-艾格威"},{"x":2.225,"y":1.66,"t":"亚达-艾格威"}],
"farmMark":[{"x":-0.02,"y":1.66,"t":"亚达-艾格威"},{"x":0.85,"y":1.66,"t":"亚达-艾格威"},{"x":1.71,"y":1.66,"t":"亚达-艾格威"}]},
"hconcat":[
{"width":372,"height":335,"encoding":{"x":{"field":"x","type":"quantitative","scale":{"domain":[0,2.5]},"axis":{"values":[0,0.5,1,1.5,2,2.5],"title":"Radiometer","titlePadding":9}},"y":{"field":"y","type":"quantitative","scale":{"domain":[0,3]},"axis":{"values":[0,0.5,1,1.5,2,2.5,3],"title":"Horiba (in lab)","titlePadding":2}}},"layer":[
{"data":{"name":"labTrend"},"mark":{"type":"line","color":"#5b9bd5","strokeWidth":1.5,"strokeDash":[1.5,2]}},
{"data":{"name":"lab"},"mark":{"type":"circle","color":"#5b9bd5","size":50,"opacity":1}},
{"data":{"name":"labNote"},"mark":{"type":"text","font":"Lato","fontSize":19,"fontWeight":500,"color":"#595959"},"encoding":{"text":{"field":"t"}}},
{"data":{"name":"labMark"},"mark":{"type":"text","font":"Noto Sans CJK SC","fontWeight":300,"fontSize":19.4,"color":"#7f7fc8","opacity":0.85},"encoding":{"text":{"field":"t"}}}]},
{"width":372,"height":335,"encoding":{"x":{"field":"x","type":"quantitative","scale":{"domain":[0,2]},"axis":{"values":[0,0.5,1,1.5,2],"title":"Radiometer","titlePadding":9}},"y":{"field":"y","type":"quantitative","scale":{"domain":[0,3]},"axis":{"values":[0,0.5,1,1.5,2,2.5,3],"title":"Horiba (on-farm)","titlePadding":2}}},"layer":[
{"data":{"name":"farmTrend"},"mark":{"type":"line","color":"#5b9bd5","strokeWidth":1.5,"strokeDash":[1.5,2]}},
{"data":{"name":"farm"},"mark":{"type":"circle","color":"#5b9bd5","size":50,"opacity":1}},
{"data":{"name":"farmNote"},"mark":{"type":"text","font":"Lato","fontSize":19,"fontWeight":500,"color":"#595959"},"encoding":{"text":{"field":"t"}}},
{"data":{"name":"farmMark"},"mark":{"type":"text","font":"Noto Sans CJK SC","fontWeight":300,"fontSize":19.4,"color":"#7f7fc8","opacity":0.85},"encoding":{"text":{"field":"t"}}}]}
]}
